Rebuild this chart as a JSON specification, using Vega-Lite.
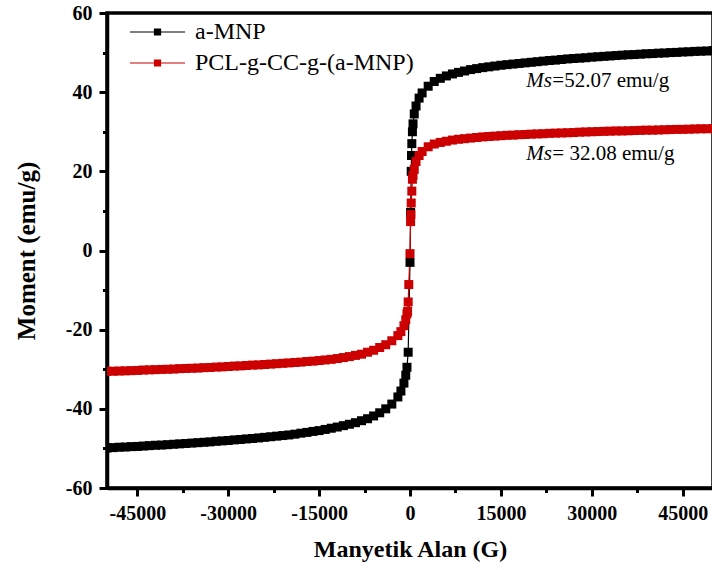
{
  "$schema": "https://vega.github.io/schema/vega-lite/v6.json",
  "width": 606,
  "height": 475,
  "autosize": {"type": "none"},
  "padding": {"left": 107, "top": 13, "right": 0, "bottom": 82},
  "config": {
    "font": "Liberation Serif",
    "view": {"stroke": "black", "strokeWidth": 3.5},
    "axis": {"grid": false, "domainColor": "black", "tickColor": "black", "labelColor": "black", "titleColor": "black"}
  },
  "data": {"values": [
    {"series":"a-MNP","field":-50000,"moment":-49.9},{"series":"a-MNP","field":-49000,"moment":-49.8},{"series":"a-MNP","field":-48000,"moment":-49.7},{"series":"a-MNP","field":-47000,"moment":-49.65},{"series":"a-MNP","field":-46000,"moment":-49.55},
    {"series":"a-MNP","field":-45000,"moment":-49.5},{"series":"a-MNP","field":-44000,"moment":-49.4},{"series":"a-MNP","field":-43000,"moment":-49.3},{"series":"a-MNP","field":-42000,"moment":-49.2},{"series":"a-MNP","field":-41000,"moment":-49.15},
    {"series":"a-MNP","field":-40000,"moment":-49.05},{"series":"a-MNP","field":-39000,"moment":-48.95},{"series":"a-MNP","field":-38000,"moment":-48.85},{"series":"a-MNP","field":-37000,"moment":-48.75},{"series":"a-MNP","field":-36000,"moment":-48.65},
    {"series":"a-MNP","field":-35000,"moment":-48.55},{"series":"a-MNP","field":-34000,"moment":-48.45},{"series":"a-MNP","field":-33000,"moment":-48.35},{"series":"a-MNP","field":-32000,"moment":-48.2},{"series":"a-MNP","field":-31000,"moment":-48.1},
    {"series":"a-MNP","field":-30000,"moment":-48.0},{"series":"a-MNP","field":-29000,"moment":-47.85},{"series":"a-MNP","field":-28000,"moment":-47.75},{"series":"a-MNP","field":-27000,"moment":-47.6},{"series":"a-MNP","field":-26000,"moment":-47.5},
    {"series":"a-MNP","field":-25000,"moment":-47.35},{"series":"a-MNP","field":-24000,"moment":-47.2},{"series":"a-MNP","field":-23000,"moment":-47.05},{"series":"a-MNP","field":-22000,"moment":-46.9},{"series":"a-MNP","field":-21000,"moment":-46.75},
    {"series":"a-MNP","field":-20000,"moment":-46.6},{"series":"a-MNP","field":-19000,"moment":-46.4},{"series":"a-MNP","field":-18000,"moment":-46.15},{"series":"a-MNP","field":-17000,"moment":-45.95},{"series":"a-MNP","field":-16000,"moment":-45.7},
    {"series":"a-MNP","field":-15000,"moment":-45.5},{"series":"a-MNP","field":-14000,"moment":-45.2},{"series":"a-MNP","field":-13000,"moment":-44.9},{"series":"a-MNP","field":-12000,"moment":-44.6},{"series":"a-MNP","field":-11000,"moment":-44.25},
    {"series":"a-MNP","field":-10000,"moment":-43.9},{"series":"a-MNP","field":-9000,"moment":-43.5},{"series":"a-MNP","field":-8000,"moment":-43.0},{"series":"a-MNP","field":-7000,"moment":-42.5},{"series":"a-MNP","field":-6000,"moment":-41.8},
    {"series":"a-MNP","field":-5000,"moment":-41.0},{"series":"a-MNP","field":-4000,"moment":-40.0},{"series":"a-MNP","field":-3000,"moment":-38.8},{"series":"a-MNP","field":-2000,"moment":-37.0},{"series":"a-MNP","field":-1500,"moment":-35.5},
    {"series":"a-MNP","field":-1000,"moment":-33.5},{"series":"a-MNP","field":-700,"moment":-31.5},{"series":"a-MNP","field":-500,"moment":-29.5},{"series":"a-MNP","field":-300,"moment":-25.7},{"series":"a-MNP","field":0,"moment":-3.0},
    {"series":"a-MNP","field":100,"moment":9.6},{"series":"a-MNP","field":200,"moment":20.0},{"series":"a-MNP","field":250,"moment":24.0},{"series":"a-MNP","field":300,"moment":27.0},{"series":"a-MNP","field":400,"moment":30.0},
    {"series":"a-MNP","field":500,"moment":32.0},{"series":"a-MNP","field":700,"moment":34.5},{"series":"a-MNP","field":1000,"moment":36.5},{"series":"a-MNP","field":1500,"moment":38.5},{"series":"a-MNP","field":2000,"moment":39.8},
    {"series":"a-MNP","field":3000,"moment":41.5},{"series":"a-MNP","field":4000,"moment":42.7},{"series":"a-MNP","field":5000,"moment":43.5},{"series":"a-MNP","field":6000,"moment":44.1},{"series":"a-MNP","field":7000,"moment":44.6},
    {"series":"a-MNP","field":8000,"moment":45.0},{"series":"a-MNP","field":9000,"moment":45.35},{"series":"a-MNP","field":10000,"moment":45.7},{"series":"a-MNP","field":11000,"moment":45.95},{"series":"a-MNP","field":12000,"moment":46.2},
    {"series":"a-MNP","field":13000,"moment":46.4},{"series":"a-MNP","field":14000,"moment":46.6},{"series":"a-MNP","field":15000,"moment":46.8},{"series":"a-MNP","field":16000,"moment":46.95},{"series":"a-MNP","field":17000,"moment":47.1},
    {"series":"a-MNP","field":18000,"moment":47.25},{"series":"a-MNP","field":19000,"moment":47.4},{"series":"a-MNP","field":20000,"moment":47.55},{"series":"a-MNP","field":21000,"moment":47.7},{"series":"a-MNP","field":22000,"moment":47.85},
    {"series":"a-MNP","field":23000,"moment":48.0},{"series":"a-MNP","field":24000,"moment":48.1},{"series":"a-MNP","field":25000,"moment":48.25},{"series":"a-MNP","field":26000,"moment":48.4},{"series":"a-MNP","field":27000,"moment":48.5},
    {"series":"a-MNP","field":28000,"moment":48.6},{"series":"a-MNP","field":29000,"moment":48.7},{"series":"a-MNP","field":30000,"moment":48.85},{"series":"a-MNP","field":31000,"moment":48.95},{"series":"a-MNP","field":32000,"moment":49.05},
    {"series":"a-MNP","field":33000,"moment":49.15},{"series":"a-MNP","field":34000,"moment":49.25},{"series":"a-MNP","field":35000,"moment":49.35},{"series":"a-MNP","field":36000,"moment":49.45},{"series":"a-MNP","field":37000,"moment":49.5},
    {"series":"a-MNP","field":38000,"moment":49.6},{"series":"a-MNP","field":39000,"moment":49.7},{"series":"a-MNP","field":40000,"moment":49.75},{"series":"a-MNP","field":41000,"moment":49.85},{"series":"a-MNP","field":42000,"moment":49.9},
    {"series":"a-MNP","field":43000,"moment":50.0},{"series":"a-MNP","field":44000,"moment":50.05},{"series":"a-MNP","field":45000,"moment":50.15},{"series":"a-MNP","field":46000,"moment":50.2},{"series":"a-MNP","field":47000,"moment":50.3},
    {"series":"a-MNP","field":48000,"moment":50.35},{"series":"a-MNP","field":49000,"moment":50.4},{"series":"a-MNP","field":50000,"moment":50.5},
    {"series":"PCL-g-CC-g-(a-MNP)","field":-50000,"moment":-30.5},{"series":"PCL-g-CC-g-(a-MNP)","field":-49000,"moment":-30.5},{"series":"PCL-g-CC-g-(a-MNP)","field":-48000,"moment":-30.45},{"series":"PCL-g-CC-g-(a-MNP)","field":-47000,"moment":-30.4},{"series":"PCL-g-CC-g-(a-MNP)","field":-46000,"moment":-30.35},
    {"series":"PCL-g-CC-g-(a-MNP)","field":-45000,"moment":-30.3},{"series":"PCL-g-CC-g-(a-MNP)","field":-44000,"moment":-30.2},{"series":"PCL-g-CC-g-(a-MNP)","field":-43000,"moment":-30.15},{"series":"PCL-g-CC-g-(a-MNP)","field":-42000,"moment":-30.1},{"series":"PCL-g-CC-g-(a-MNP)","field":-41000,"moment":-30.05},
    {"series":"PCL-g-CC-g-(a-MNP)","field":-40000,"moment":-30.0},{"series":"PCL-g-CC-g-(a-MNP)","field":-39000,"moment":-29.95},{"series":"PCL-g-CC-g-(a-MNP)","field":-38000,"moment":-29.85},{"series":"PCL-g-CC-g-(a-MNP)","field":-37000,"moment":-29.8},{"series":"PCL-g-CC-g-(a-MNP)","field":-36000,"moment":-29.75},
    {"series":"PCL-g-CC-g-(a-MNP)","field":-35000,"moment":-29.7},{"series":"PCL-g-CC-g-(a-MNP)","field":-34000,"moment":-29.6},{"series":"PCL-g-CC-g-(a-MNP)","field":-33000,"moment":-29.55},{"series":"PCL-g-CC-g-(a-MNP)","field":-32000,"moment":-29.45},{"series":"PCL-g-CC-g-(a-MNP)","field":-31000,"moment":-29.4},
    {"series":"PCL-g-CC-g-(a-MNP)","field":-30000,"moment":-29.3},{"series":"PCL-g-CC-g-(a-MNP)","field":-29000,"moment":-29.2},{"series":"PCL-g-CC-g-(a-MNP)","field":-28000,"moment":-29.15},{"series":"PCL-g-CC-g-(a-MNP)","field":-27000,"moment":-29.05},{"series":"PCL-g-CC-g-(a-MNP)","field":-26000,"moment":-28.95},
    {"series":"PCL-g-CC-g-(a-MNP)","field":-25000,"moment":-28.9},{"series":"PCL-g-CC-g-(a-MNP)","field":-24000,"moment":-28.8},{"series":"PCL-g-CC-g-(a-MNP)","field":-23000,"moment":-28.7},{"series":"PCL-g-CC-g-(a-MNP)","field":-22000,"moment":-28.6},{"series":"PCL-g-CC-g-(a-MNP)","field":-21000,"moment":-28.5},
    {"series":"PCL-g-CC-g-(a-MNP)","field":-20000,"moment":-28.4},{"series":"PCL-g-CC-g-(a-MNP)","field":-19000,"moment":-28.3},{"series":"PCL-g-CC-g-(a-MNP)","field":-18000,"moment":-28.2},{"series":"PCL-g-CC-g-(a-MNP)","field":-17000,"moment":-28.05},{"series":"PCL-g-CC-g-(a-MNP)","field":-16000,"moment":-27.95},
    {"series":"PCL-g-CC-g-(a-MNP)","field":-15000,"moment":-27.8},{"series":"PCL-g-CC-g-(a-MNP)","field":-14000,"moment":-27.65},{"series":"PCL-g-CC-g-(a-MNP)","field":-13000,"moment":-27.5},{"series":"PCL-g-CC-g-(a-MNP)","field":-12000,"moment":-27.3},{"series":"PCL-g-CC-g-(a-MNP)","field":-11000,"moment":-27.05},
    {"series":"PCL-g-CC-g-(a-MNP)","field":-10000,"moment":-26.8},{"series":"PCL-g-CC-g-(a-MNP)","field":-9000,"moment":-26.5},{"series":"PCL-g-CC-g-(a-MNP)","field":-8000,"moment":-26.2},{"series":"PCL-g-CC-g-(a-MNP)","field":-7000,"moment":-25.7},{"series":"PCL-g-CC-g-(a-MNP)","field":-6000,"moment":-25.2},
    {"series":"PCL-g-CC-g-(a-MNP)","field":-5000,"moment":-24.5},{"series":"PCL-g-CC-g-(a-MNP)","field":-4000,"moment":-23.8},{"series":"PCL-g-CC-g-(a-MNP)","field":-3000,"moment":-22.8},{"series":"PCL-g-CC-g-(a-MNP)","field":-2000,"moment":-21.5},{"series":"PCL-g-CC-g-(a-MNP)","field":-1500,"moment":-20.5},
    {"series":"PCL-g-CC-g-(a-MNP)","field":-1000,"moment":-19.0},{"series":"PCL-g-CC-g-(a-MNP)","field":-700,"moment":-17.5},{"series":"PCL-g-CC-g-(a-MNP)","field":-500,"moment":-16.0},{"series":"PCL-g-CC-g-(a-MNP)","field":-400,"moment":-15.4},{"series":"PCL-g-CC-g-(a-MNP)","field":-300,"moment":-13.0},
    {"series":"PCL-g-CC-g-(a-MNP)","field":-200,"moment":-8.6},{"series":"PCL-g-CC-g-(a-MNP)","field":0,"moment":-0.8},{"series":"PCL-g-CC-g-(a-MNP)","field":100,"moment":7.3},{"series":"PCL-g-CC-g-(a-MNP)","field":150,"moment":9.1},{"series":"PCL-g-CC-g-(a-MNP)","field":200,"moment":12.0},
    {"series":"PCL-g-CC-g-(a-MNP)","field":300,"moment":15.0},{"series":"PCL-g-CC-g-(a-MNP)","field":400,"moment":18.0},{"series":"PCL-g-CC-g-(a-MNP)","field":500,"moment":19.0},{"series":"PCL-g-CC-g-(a-MNP)","field":700,"moment":20.5},{"series":"PCL-g-CC-g-(a-MNP)","field":1000,"moment":22.5},
    {"series":"PCL-g-CC-g-(a-MNP)","field":1500,"moment":24.0},{"series":"PCL-g-CC-g-(a-MNP)","field":2000,"moment":25.0},{"series":"PCL-g-CC-g-(a-MNP)","field":3000,"moment":26.2},{"series":"PCL-g-CC-g-(a-MNP)","field":4000,"moment":26.9},{"series":"PCL-g-CC-g-(a-MNP)","field":5000,"moment":27.3},
    {"series":"PCL-g-CC-g-(a-MNP)","field":6000,"moment":27.6},{"series":"PCL-g-CC-g-(a-MNP)","field":7000,"moment":27.9},{"series":"PCL-g-CC-g-(a-MNP)","field":8000,"moment":28.1},{"series":"PCL-g-CC-g-(a-MNP)","field":9000,"moment":28.25},{"series":"PCL-g-CC-g-(a-MNP)","field":10000,"moment":28.4},
    {"series":"PCL-g-CC-g-(a-MNP)","field":11000,"moment":28.55},{"series":"PCL-g-CC-g-(a-MNP)","field":12000,"moment":28.7},{"series":"PCL-g-CC-g-(a-MNP)","field":13000,"moment":28.8},{"series":"PCL-g-CC-g-(a-MNP)","field":14000,"moment":28.9},{"series":"PCL-g-CC-g-(a-MNP)","field":15000,"moment":29.0},
    {"series":"PCL-g-CC-g-(a-MNP)","field":16000,"moment":29.1},{"series":"PCL-g-CC-g-(a-MNP)","field":17000,"moment":29.15},{"series":"PCL-g-CC-g-(a-MNP)","field":18000,"moment":29.25},{"series":"PCL-g-CC-g-(a-MNP)","field":19000,"moment":29.3},{"series":"PCL-g-CC-g-(a-MNP)","field":20000,"moment":29.4},
    {"series":"PCL-g-CC-g-(a-MNP)","field":21000,"moment":29.45},{"series":"PCL-g-CC-g-(a-MNP)","field":22000,"moment":29.5},{"series":"PCL-g-CC-g-(a-MNP)","field":23000,"moment":29.6},{"series":"PCL-g-CC-g-(a-MNP)","field":24000,"moment":29.65},{"series":"PCL-g-CC-g-(a-MNP)","field":25000,"moment":29.7},
    {"series":"PCL-g-CC-g-(a-MNP)","field":26000,"moment":29.75},{"series":"PCL-g-CC-g-(a-MNP)","field":27000,"moment":29.8},{"series":"PCL-g-CC-g-(a-MNP)","field":28000,"moment":29.9},{"series":"PCL-g-CC-g-(a-MNP)","field":29000,"moment":29.95},{"series":"PCL-g-CC-g-(a-MNP)","field":30000,"moment":30.0},
    {"series":"PCL-g-CC-g-(a-MNP)","field":31000,"moment":30.05},{"series":"PCL-g-CC-g-(a-MNP)","field":32000,"moment":30.1},{"series":"PCL-g-CC-g-(a-MNP)","field":33000,"moment":30.15},{"series":"PCL-g-CC-g-(a-MNP)","field":34000,"moment":30.2},{"series":"PCL-g-CC-g-(a-MNP)","field":35000,"moment":30.2},
    {"series":"PCL-g-CC-g-(a-MNP)","field":36000,"moment":30.25},{"series":"PCL-g-CC-g-(a-MNP)","field":37000,"moment":30.3},{"series":"PCL-g-CC-g-(a-MNP)","field":38000,"moment":30.35},{"series":"PCL-g-CC-g-(a-MNP)","field":39000,"moment":30.4},{"series":"PCL-g-CC-g-(a-MNP)","field":40000,"moment":30.4},
    {"series":"PCL-g-CC-g-(a-MNP)","field":41000,"moment":30.45},{"series":"PCL-g-CC-g-(a-MNP)","field":42000,"moment":30.5},{"series":"PCL-g-CC-g-(a-MNP)","field":43000,"moment":30.55},{"series":"PCL-g-CC-g-(a-MNP)","field":44000,"moment":30.6},{"series":"PCL-g-CC-g-(a-MNP)","field":45000,"moment":30.6},
    {"series":"PCL-g-CC-g-(a-MNP)","field":46000,"moment":30.65},{"series":"PCL-g-CC-g-(a-MNP)","field":47000,"moment":30.7},{"series":"PCL-g-CC-g-(a-MNP)","field":48000,"moment":30.75},{"series":"PCL-g-CC-g-(a-MNP)","field":49000,"moment":30.75},{"series":"PCL-g-CC-g-(a-MNP)","field":50000,"moment":30.8}
  ]},
  "resolve": {"axis": {"x": "independent", "y": "independent"}},
  "layer": [
    {
      "mark": {"type": "line", "strokeWidth": 1.2, "clip": true},
      "encoding": {
        "x": {"field": "field", "type": "quantitative", "scale": {"domain": [-50000, 50000], "nice": false, "zero": false},
              "axis": {"orient": "bottom", "values": [-37500, -22500, -7500, 7500, 22500, 37500], "labels": false, "domain": false, "tickSize": 4.5, "tickWidth": 3, "title": null}},
        "y": {"field": "moment", "type": "quantitative", "scale": {"domain": [-60, 60], "nice": false, "zero": false},
              "axis": {"orient": "left", "values": [-50, -30, -10, 10, 30, 50], "labels": false, "domain": false, "tickSize": 4.5, "tickWidth": 3, "title": null}},
        "color": {"field": "series", "type": "nominal",
                  "scale": {"domain": ["a-MNP", "PCL-g-CC-g-(a-MNP)"], "range": ["#000000", "#cc0000"]},
                  "legend": {"orient": "none", "legendX": 38.5, "legendY": 7, "title": null, "padding": 0,
                             "symbolType": "M-5.5,0H5.5M-0.6,-0.6H0.6V0.6H-0.6Z", "symbolSize": 100, "symbolStrokeWidth": 1.2,
                             "labelFont": "Liberation Serif", "labelFontSize": 24, "labelColor": "black", "labelOffset": 25.5, "labelLimit": 500, "rowPadding": 7,
                             "encode": {"symbols": {"update": {"fill": {"scale": "color", "field": "value"}, "stroke": {"scale": "color", "field": "value"}, "opacity": {"value": 1}}}}}}
      }
    },
    {
      "mark": {"type": "point", "shape": "square", "filled": true, "size": 81, "opacity": 1, "clip": true},
      "encoding": {
        "x": {"field": "field", "type": "quantitative",
              "axis": {"orient": "bottom", "values": [-45000, -30000, -15000, 0, 15000, 30000, 45000], "labelExpr": "'' + datum.value",
                       "labelFont": "Liberation Serif", "labelFontWeight": "bold", "labelFontSize": 20, "labelPadding": 7,
                       "tickSize": 8, "tickWidth": 3, "domainWidth": 3.5,
                       "title": "Manyetik Alan (G)", "titleFont": "Liberation Serif", "titleFontWeight": "bold", "titleFontSize": 24, "titlePadding": 14}},
        "y": {"field": "moment", "type": "quantitative",
              "axis": {"orient": "left", "values": [-60, -40, -20, 0, 20, 40, 60], "labelExpr": "'' + datum.value",
                       "labelFont": "Liberation Serif", "labelFontWeight": "bold", "labelFontSize": 20, "labelPadding": 7,
                       "tickSize": 8, "tickWidth": 3, "domainWidth": 3.5,
                       "title": "Moment (emu/g)", "titleFont": "Liberation Serif", "titleFontWeight": "bold", "titleFontSize": 25, "titlePadding": 26}},
        "color": {"field": "series", "type": "nominal"}
      }
    },
    {
      "data": {"values": [{}]},
      "mark": {"type": "text", "text": "Ms", "font": "Liberation Serif", "fontStyle": "italic", "fontSize": 21, "align": "left", "baseline": "alphabetic", "color": "black"},
      "encoding": {"x": {"datum": 19200, "type": "quantitative", "axis": null}, "y": {"datum": 41.4, "type": "quantitative", "axis": null}}
    },
    {
      "data": {"values": [{}]},
      "mark": {"type": "text", "text": "=52.07 emu/g", "font": "Liberation Serif", "fontSize": 21, "align": "left", "baseline": "alphabetic", "dx": 26, "color": "black"},
      "encoding": {"x": {"datum": 19200, "type": "quantitative", "axis": null}, "y": {"datum": 41.4, "type": "quantitative", "axis": null}}
    },
    {
      "data": {"values": [{}]},
      "mark": {"type": "text", "text": "Ms", "font": "Liberation Serif", "fontStyle": "italic", "fontSize": 21, "align": "left", "baseline": "alphabetic", "color": "black"},
      "encoding": {"x": {"datum": 19200, "type": "quantitative", "axis": null}, "y": {"datum": 22.9, "type": "quantitative", "axis": null}}
    },
    {
      "data": {"values": [{}]},
      "mark": {"type": "text", "text": "= 32.08 emu/g", "font": "Liberation Serif", "fontSize": 21, "align": "left", "baseline": "alphabetic", "dx": 26, "color": "black"},
      "encoding": {"x": {"datum": 19200, "type": "quantitative", "axis": null}, "y": {"datum": 22.9, "type": "quantitative", "axis": null}}
    }
  ]
}
